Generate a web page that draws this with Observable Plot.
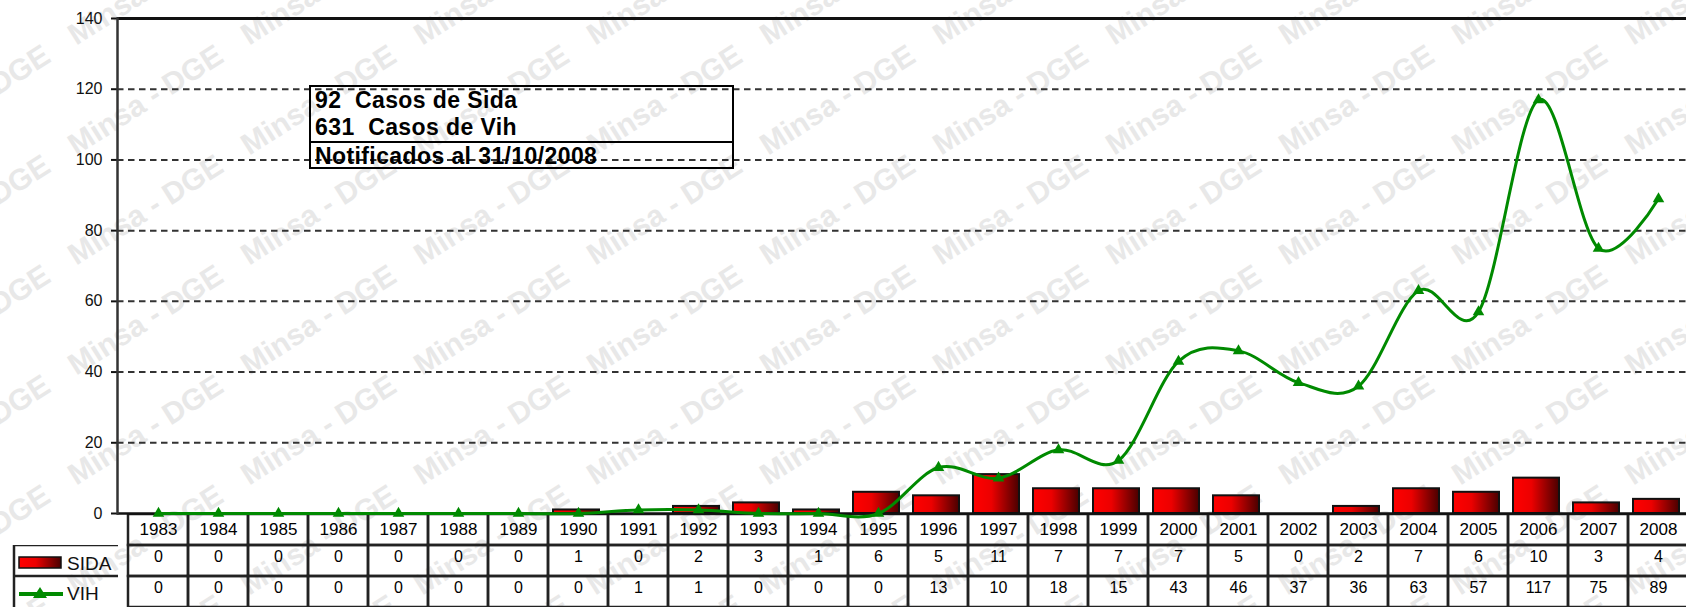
<!DOCTYPE html>
<html>
<head>
<meta charset="utf-8">
<script src="https://cdn.jsdelivr.net/npm/d3@7"></script>
<script src="https://cdn.jsdelivr.net/npm/@observablehq/plot@0.6"></script>
<style>
html,body{margin:0;padding:0;background:#fff;overflow:hidden;}
#wrap{position:relative;width:1686px;height:607px;overflow:hidden;font-family:"Liberation Sans",Arial,sans-serif;}
#wm{position:absolute;left:0;top:0;width:1686px;height:607px;overflow:hidden;}
#wm span{position:absolute;font:bold 30px "Liberation Sans",Arial,sans-serif;color:#e8e8e8;white-space:pre;transform-origin:0 100%;transform:rotate(-32.5deg);line-height:30px;}
#box{position:absolute;left:309px;top:85px;width:425px;height:84px;border:2px solid #000;box-sizing:border-box;font:bold 23px "Liberation Sans",Arial,sans-serif;letter-spacing:0.4px;color:#000;}
#box div{height:27px;line-height:27px;padding-left:4px;white-space:pre;}
#box div.sep{border-bottom:2px solid #000;}
</style>
</head>
<body>
<div id="wrap"><div id="wm"></div></div>
<script>
// ---- data ----
const years = [1983,1984,1985,1986,1987,1988,1989,1990,1991,1992,1993,1994,1995,1996,1997,1998,1999,2000,2001,2002,2003,2004,2005,2006,2007,2008];
const sida  = [0,0,0,0,0,0,0,1,0,2,3,1,6,5,11,7,7,7,5,0,2,7,6,10,3,4];
const vih   = [0,0,0,0,0,0,0,0,1,1,0,0,0,13,10,18,15,43,46,37,36,63,57,117,75,89];
const yTicks = [0,20,40,60,80,100,120,140];
const gridTicks = [20,40,60,80,100,120];
const rowNames = ["Año","SIDA","VIH"];
const boxLines = ["92  Casos de Sida","631  Casos de Vih","Notificados al 31/10/2008"];
const watermarkText = "Minsa - DGE";

const data = years.map((y,i)=>({year:y, sida:sida[i], vih:vih[i]}));
const cells = years.flatMap((y,i)=>[
  {year:y,row:rowNames[0],text:String(y)},
  {year:y,row:rowNames[1],text:String(sida[i])},
  {year:y,row:rowNames[2],text:String(vih[i])}
]);

const green = "#008a00";
const font = "'Liberation Sans', Arial, sans-serif";
const wrap = document.getElementById("wrap");

// watermark (only the copies that touch the visible area)
const wm = document.getElementById("wm");
for (let j=-2;j<=10;j++) for (let k=-1;k<=6;k++) {
  const x = 79 + 173*j, y = 160 + 110*k;
  if (x + 160 < 0 || x > 1686 || y + 5 < 0 || y - 110 > 607) continue;
  const s = document.createElement("span");
  s.textContent = watermarkText;
  s.style.left = x + "px";
  s.style.top = (y - 30) + "px";
  wm.appendChild(s);
}

const xScale = {type:"band", domain:years, range:[117,1699], padding:0, axis:null};

const gradDefs = () => {
  const defs = document.createElementNS("http://www.w3.org/2000/svg","defs");
  defs.innerHTML = '<linearGradient id="redgrad" x1="0" x2="1" y1="0" y2="0">' +
    '<stop offset="0" stop-color="#ff0000"/><stop offset="0.4" stop-color="#ec0000"/>' +
    '<stop offset="1" stop-color="#4a0000"/></linearGradient>';
  return defs;
};

// table (below the chart layer)
const table = Plot.plot({
  width:1686, height:94, marginLeft:117, marginRight:0, marginTop:0, marginBottom:0,
  x: xScale,
  y: {type:"band", domain:rowNames, range:[0,95], padding:0, axis:null},
  style:{background:"transparent", fontFamily:font},
  marks:[
    Plot.cell(cells,{x:"year", y:"row", fill:"none", stroke:"#222", strokeWidth:2.5, inset:0}),
    Plot.text(cells.filter(d=>d.row===rowNames[0]),{x:"year", y:"row", text:"text", fontSize:17, fill:"#000"}),
    Plot.text(cells.filter(d=>d.row!==rowNames[0]),{x:"year", y:"row", text:"text", fontSize:16, dy:-4, fill:"#000"})
  ]
});
table.style.position="absolute"; table.style.left="0"; table.style.top="513px";
wrap.appendChild(table);

// chart
const chart = Plot.plot({
  width:1686, height:607, marginLeft:117, marginRight:0, marginTop:18, marginBottom:94,
  x: xScale,
  y: {domain:[0,140], axis:null},
  style:{background:"transparent", fontFamily:font},
  marks:[
    gradDefs,
    Plot.gridY(gridTicks,{stroke:"#333", strokeOpacity:1, strokeWidth:2, strokeDasharray:"6.5 4.5"}),
    Plot.ruleY([140],{stroke:"#111", strokeWidth:3}),
    Plot.axisY({ticks:yTicks, tickSize:6, tickPadding:9, fontSize:16, label:null, color:"#111", strokeWidth:2}),
    Plot.barY(data,{x:"year", y:"sida", fill:"url(#redgrad)", stroke:"#111", strokeWidth:2, insetLeft:5, insetRight:9}),
    Plot.ruleY([0],{stroke:"#111", strokeWidth:2.5}),
    Plot.frame({anchor:"left", stroke:"#333", strokeWidth:2.5}),
    Plot.line(data,{x:"year", y:"vih", stroke:green, strokeWidth:3, curve:"cardinal"}),
    Plot.dot(data,{x:"year", y:"vih", symbol:"triangle", fill:green, stroke:"none", r:4.3})
  ]
});
chart.style.position="absolute"; chart.style.left="0"; chart.style.top="0";
wrap.appendChild(chart);

// legend column (left of table)
const lg = d3.create("svg").attr("width",120).attr("height",62)
  .style("position","absolute").style("left","0").style("top","545px");
lg.append("defs").html('<linearGradient id="redgrad2" x1="0" x2="1" y1="0" y2="0">' +
    '<stop offset="0" stop-color="#ff0000"/><stop offset="0.4" stop-color="#ec0000"/>' +
    '<stop offset="1" stop-color="#4a0000"/></linearGradient>');
lg.append("line").attr("x1",14).attr("x2",14).attr("y1",-1).attr("y2",64).attr("stroke","#222").attr("stroke-width",2.5);
lg.append("line").attr("x1",13).attr("x2",118).attr("y1",0).attr("y2",0).attr("stroke","#222").attr("stroke-width",2.5);
lg.append("line").attr("x1",13).attr("x2",118).attr("y1",31).attr("y2",31).attr("stroke","#222").attr("stroke-width",2.5);
lg.append("rect").attr("x",19).attr("y",12).attr("width",42).attr("height",11).attr("fill","url(#redgrad2)").attr("stroke","#111").attr("stroke-width",1.5);
lg.append("text").attr("x",67).attr("y",25).attr("font-family",font).attr("font-size",19).attr("fill","#111").text(rowNames[1]);
lg.append("line").attr("x1",19).attr("x2",63).attr("y1",49).attr("y2",49).attr("stroke",green).attr("stroke-width",4);
lg.append("path").attr("d","M33,53L47,53L40,42Z").attr("fill",green);
lg.append("text").attr("x",67).attr("y",55).attr("font-family",font).attr("font-size",19).attr("fill","#111").text(rowNames[2]);
wrap.appendChild(lg.node());

// annotation box
const box = document.createElement("div");
box.id = "box";
boxLines.forEach((t,i)=>{
  const d = document.createElement("div");
  d.textContent = t;
  if (i===1) d.className = "sep";
  box.appendChild(d);
});
wrap.appendChild(box);
</script>
</body>
</html>
